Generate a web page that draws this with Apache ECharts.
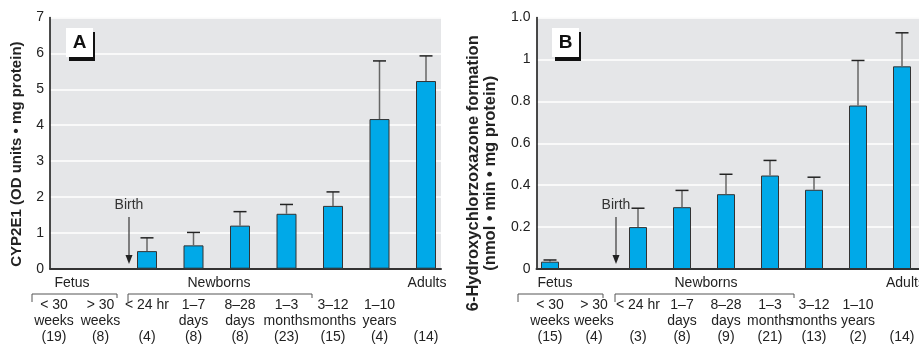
<!DOCTYPE html>
<html>
<head>
<meta charset="utf-8">
<script src="https://cdn.jsdelivr.net/npm/echarts@6/dist/echarts.min.js"></script>
<style>
  html, body { margin: 0; padding: 0; background: #fff; }
  #chart { width: 919px; height: 346px; }
</style>
</head>
<body>
<div id="chart"></div>
<script>
// Age groups shared by both panels (two text lines each)
const categories = ['< 30\nweeks', '> 30\nweeks', '< 24 hr\n', '1–7\ndays', '8–28\ndays',
                    '1–3\nmonths', '3–12\nmonths', '1–10\nyears', '\n'];

// Panel A: CYP2E1 protein (OD units • mg protein)
const countsA = [19, 8, 4, 8, 8, 23, 15, 4, 14];
const meanA   = [null, null, 0.49, 0.65, 1.20, 1.53, 1.75, 4.17, 5.23];
const sdA     = [null, null, 0.37, 0.36, 0.39, 0.26, 0.39, 1.62, 0.70];
const ticksA  = ['0', '1', '2', '3', '4', '5', '6', '7'];

// Panel B: 6-hydroxychlorzoxazone formation (nmol • min • mg protein)
const countsB = [15, 4, 3, 8, 9, 21, 13, 2, 14];
const meanB   = [0.035, null, 0.200, 0.295, 0.357, 0.446, 0.378, 0.780, 0.967];
const sdB     = [0.008, null, 0.090, 0.080, 0.095, 0.072, 0.060, 0.215, 0.160];
const ticksB  = ['0', '0.2', '0.4', '0.6', '0.8', '1', '1.0'];

const FONT = '"Liberation Sans", Arial, sans-serif';
const INK = '#222';
const BAR = '#00A9E8';
const PANEL_BG = '#E5E6E8';

function errorData(mean, sd) {
  const out = [];
  mean.forEach((m, i) => { if (m != null) out.push([i, m, m + sd[i]]); });
  return out;
}

function renderError(params, api) {
  const x = api.value(0);
  const p0 = api.coord([x, api.value(1)]);
  const p1 = api.coord([x, api.value(2)]);
  return {
    type: 'group',
    children: [
      { type: 'line', shape: { x1: p0[0], y1: p0[1], x2: p1[0], y2: p1[1] },
        style: { stroke: '#666', lineWidth: 1.5 } },
      { type: 'line', shape: { x1: p1[0] - 6.5, y1: p1[1], x2: p1[0] + 6.5, y2: p1[1] },
        style: { stroke: '#222', lineWidth: 1.5 } }
    ]
  };
}

function frameX(gridIndex) {
  return {
    type: 'category', gridIndex, data: categories, boundaryGap: true,
    axisLine: { show: true, lineStyle: { color: '#333', width: 2 } },
    axisTick: { show: false }, axisLabel: { show: false }, splitLine: { show: false }
  };
}
function barX(gridIndex, counts) {
  return {
    type: 'category', gridIndex, data: categories, boundaryGap: true,
    axisLine: { show: false }, axisTick: { show: false }, splitLine: { show: false },
    axisLabel: {
      interval: 0, margin: 28, lineHeight: 16, fontSize: 14, fontFamily: FONT, color: INK,
      formatter: (v, i) => v + '\n(' + counts[i] + ')'
    }
  };
}
function frameY(gridIndex, max, interval, ticks, name, nameGap, nameSize, namePad) {
  return {
    type: 'value', gridIndex, min: 0, max, interval,
    axisLine: { show: true, lineStyle: { color: '#111', width: 1.5 } },
    axisTick: { show: false },
    axisLabel: { margin: 6, fontSize: 14, fontFamily: FONT, color: INK,
                 formatter: (v, i) => ticks[i] },
    splitLine: { show: true, lineStyle: { color: '#fff', width: 1.5 } },
    name, nameLocation: 'middle', nameRotate: 90, nameGap,
    nameTextStyle: { fontSize: nameSize, fontWeight: 'bold', fontFamily: FONT, color: INK,
                     lineHeight: 17, padding: namePad }
  };
}
function barY(gridIndex, max, interval) {
  return { type: 'value', gridIndex, min: 0, max, interval, show: false,
           splitLine: { show: false } };
}

const chart = echarts.init(document.getElementById('chart'), null, { renderer: 'canvas' });

const gridBase = { outerBoundsMode: 'none', containLabel: false };
const option = {
  animation: false,
  backgroundColor: '#fff',
  grid: [
    Object.assign({ left: 50, top: 17.5, width: 391, height: 251.2, show: true, backgroundColor: PANEL_BG, borderWidth: 0 }, gridBase),
    Object.assign({ left: 30.75, top: 17.5, width: 418.5, height: 251.2 }, gridBase),
    Object.assign({ left: 536.5, top: 17.5, width: 392, height: 251.5, show: true, backgroundColor: PANEL_BG, borderWidth: 0 }, gridBase),
    Object.assign({ left: 528, top: 17.5, width: 396, height: 251.5 }, gridBase)
  ],
  xAxis: [frameX(0), barX(1, countsA), frameX(2), barX(3, countsB)],
  yAxis: [
    frameY(0, 7, 1, ticksA, 'CYP2E1 (OD units • mg protein)', 25, 15, [0, 22, 0, 0]),
    barY(1, 7, 1),
    frameY(2, 1.2, 0.2, ticksB, '6-Hydroxychlorzoxazone formation\n(nmol • min • mg protein)', 38, 16.5, [0, 60, 0, 0]),
    barY(3, 1.2, 0.2)
  ],
  series: [
    { type: 'bar', xAxisIndex: 1, yAxisIndex: 1, data: meanA.map(v => v == null ? '-' : v),
      barWidth: 20, itemStyle: { color: BAR, borderColor: '#333', borderWidth: 1 }, z: 3 },
    { type: 'custom', xAxisIndex: 1, yAxisIndex: 1, data: errorData(meanA, sdA),
      renderItem: renderError, z: 4 },
    { type: 'bar', xAxisIndex: 3, yAxisIndex: 3, data: meanB.map(v => v == null ? '-' : v),
      barWidth: 18, itemStyle: { color: BAR, borderColor: '#333', borderWidth: 1 }, z: 3 },
    { type: 'custom', xAxisIndex: 3, yAxisIndex: 3, data: errorData(meanB, sdB),
      renderItem: renderError, z: 4 }
  ]
};
chart.setOption(option);

// Panel letters, "Birth" arrows, age-group headings and brackets
function panelTag(x, y, letter) {
  return [
    { type: 'rect', shape: { x: x + 3, y: y + 4, width: 26, height: 29 }, style: { fill: '#111' }, z: 10 },
    { type: 'rect', shape: { x: x, y: y, width: 27, height: 29 }, style: { fill: '#fff' }, z: 11 },
    { type: 'text', x: x + 13.5, y: y + 15, z: 12,
      style: { text: letter, font: 'bold 19px ' + FONT, fill: '#111', align: 'center', verticalAlign: 'middle' } }
  ];
}
function birthMark(x) {
  return [
    { type: 'text', x: x, y: 205, z: 10,
      style: { text: 'Birth', font: '14px ' + FONT, fill: '#333', align: 'center', verticalAlign: 'middle' } },
    { type: 'line', shape: { x1: x, y1: 217, x2: x, y2: 258 }, style: { stroke: '#444', lineWidth: 1.3 }, z: 10 },
    { type: 'polygon', shape: { points: [[x - 3.5, 255], [x + 3.5, 255], [x, 264]] }, style: { fill: '#222' }, z: 10 }
  ];
}
function groupLabel(x, text, align) {
  return { type: 'text', x: x, y: 283, z: 10,
    style: { text, font: '14px ' + FONT, fill: INK, align: align || 'center', verticalAlign: 'middle' } };
}
function bracket(x1, x2) {
  return { type: 'polyline', z: 10,
    shape: { points: [[x1, 302], [x1, 294], [x2, 294], [x2, 298]] },
    style: { stroke: '#555', lineWidth: 1, fill: null } };
}

chart.setOption({
  graphic: [].concat(
    panelTag(66, 28, 'A'), panelTag(552, 28, 'B'),
    birthMark(129), birthMark(616),
    [groupLabel(72, 'Fetus'), groupLabel(219, 'Newborns'), groupLabel(427, 'Adults'),
     groupLabel(555, 'Fetus'), groupLabel(706, 'Newborns'), groupLabel(886, 'Adults', 'left'),
     bracket(32, 117), bracket(128, 312), bracket(518, 603), bracket(615, 794)]
  )
});
</script>
</body>
</html>
